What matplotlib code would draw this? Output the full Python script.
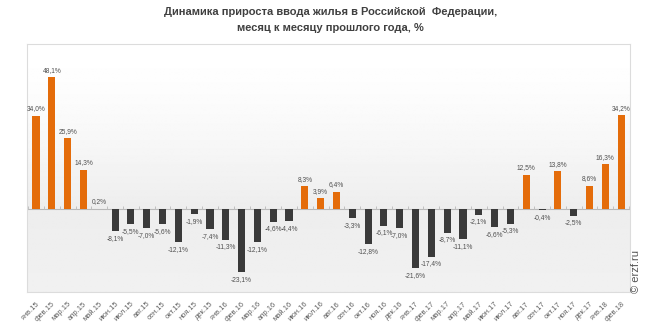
import matplotlib
matplotlib.use("Agg")
import matplotlib.pyplot as plt
import numpy as np

plt.rcParams["font.family"] = ["Liberation Sans", "DejaVu Sans"]

months = ["янв.15", "фев.15", "мар.15", "апр.15", "май.15", "июн.15", "июл.15", "авг.15",
          "сен.15", "окт.15", "ноя.15", "дек.15", "янв.16", "фев.16", "мар.16", "апр.16",
          "май.16", "июн.16", "июл.16", "авг.16", "сен.16", "окт.16", "ноя.16", "дек.16",
          "янв.17", "фев.17", "мар.17", "апр.17", "май.17", "июн.17", "июл.17", "авг.17",
          "сен.17", "окт.17", "ноя.17", "дек.17", "янв.18", "фев.18"]
growth = [34.0, 48.1, 25.9, 14.3, 0.2, -8.1, -5.5, -7.0,
          -5.6, -12.1, -1.9, -7.4, -11.3, -23.1, -12.1, -4.6,
          -4.4, 8.3, 3.9, 6.4, -3.3, -12.8, -6.1, -7.0,
          -21.6, -17.4, -8.7, -11.1, -2.1, -6.6, -5.3, 12.5,
          -0.4, 13.8, -2.5, 8.6, 16.3, 34.2]

title = "Динамика прироста ввода жилья в Российской  Федерации,\nмесяц к месяцу прошлого года, %"

orange = "#e46c0a"
dark = "#3a3a3a"

fig = plt.figure(figsize=(6.5, 3.34), dpi=100)
ax = fig.add_axes([27 / 650, 1 - 292 / 334, 603 / 650, 248 / 334])

ymin, ymax = -30.3, 60.3
xmin, xmax = -0.57, len(months) - 1 + 0.56

# background: gradient above zero, flat grey below
n = 200
ys = np.linspace(ymax, ymin, n)
shade = np.where(ys > 0, 1.0 - 0.07 * (1 - ys / ymax) ** 1.5, 0.93 + 0.015 * (ys / ymin))
img = np.repeat(shade[:, None], 2, axis=1)
ax.imshow(img, cmap="gray", vmin=0, vmax=1, aspect="auto",
          extent=[xmin, xmax, ymin, ymax], zorder=0, interpolation="bilinear")

x = np.arange(len(months))
vals = np.array(growth)
colors = [orange if v >= 0 else dark for v in vals]
ax.bar(x, vals, width=0.45, color=colors, zorder=3)

ax.axhline(0, color="#b8b8b8", lw=0.8, zorder=2)
ax.vlines(np.arange(len(months) + 1) - 0.5, 0, 1.2, color="#c0c0c0", lw=0.7, zorder=2)

for xi, v in zip(x, vals):
    lbl = f"{v:.1f}%".replace(".", ",")
    if v >= 0:
        ax.annotate(lbl, (xi, v), xytext=(0, 2.5), textcoords="offset points",
                    ha="center", va="bottom", fontsize=4.8, color="#505050", zorder=4)
    else:
        ax.annotate(lbl, (xi, v), xytext=(0, -2.5), textcoords="offset points",
                    ha="center", va="top", fontsize=4.8, color="#505050", zorder=4)

ax.set_xlim(xmin, xmax)
ax.set_ylim(ymin, ymax)
ax.set_yticks([])
ax.set_xticks(x)
ax.set_xticklabels(months, rotation=45, ha="right", va="top", rotation_mode="anchor",
                   fontsize=5.4, color="#606060")
ax.tick_params(axis="x", length=0, pad=6)
for s in ax.spines.values():
    s.set_color("#dcdcdc")
    s.set_linewidth(0.8)

fig.text(0.508, 0.978, title, ha="center", va="top", fontsize=8, fontweight="bold",
         color="#404040", linespacing=1.75)
fig.text(0.979, 0.186, "© erzf.ru", rotation=90, ha="center", va="center",
         fontsize=8, color="#555555")

fig.savefig("out.png", dpi=100)
